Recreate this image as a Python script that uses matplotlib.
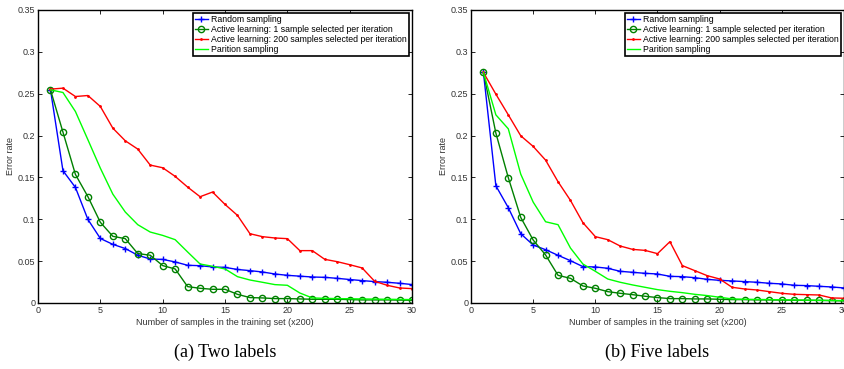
import matplotlib
matplotlib.use("Agg")
import matplotlib.pyplot as plt
import numpy as np

# training-set size, in units of 200 samples
n_iter = np.arange(1, 31)

# (a) two labels
two_random = [0.2546, 0.158, 0.138, 0.0998, 0.077, 0.070, 0.065, 0.057, 0.0525, 0.052,
              0.049, 0.045, 0.0445, 0.043, 0.0425, 0.040, 0.0386, 0.037, 0.0346, 0.033,
              0.032, 0.031, 0.0306, 0.0294, 0.028, 0.0267, 0.0255, 0.0247, 0.0235, 0.022]
two_active1 = [0.2546, 0.204, 0.1535, 0.127, 0.0963, 0.0796, 0.0768, 0.059, 0.057, 0.0446,
               0.0406, 0.0195, 0.0175, 0.0163, 0.0163, 0.0103, 0.0064, 0.006, 0.0052, 0.0052,
               0.0048, 0.0044, 0.0044, 0.0044, 0.004, 0.0036, 0.0036, 0.0036, 0.0034, 0.0032]
two_active200 = [0.2554, 0.2566, 0.2466, 0.2478, 0.2347, 0.2088, 0.1937, 0.1838, 0.1647, 0.1615,
                 0.1512, 0.1384, 0.1269, 0.1325, 0.1177, 0.1046, 0.0827, 0.0792, 0.0776, 0.0768,
                 0.0625, 0.0625, 0.0521, 0.0493, 0.0457, 0.0418, 0.0259, 0.0211, 0.0179, 0.0171]
two_partition = [0.2546, 0.2514, 0.2287, 0.195, 0.161, 0.130, 0.1086, 0.0935, 0.0847, 0.0807,
                 0.0756, 0.0609, 0.0465, 0.0438, 0.0406, 0.0314, 0.0274, 0.0247, 0.0219, 0.0211,
                 0.0119, 0.006, 0.0055, 0.0052, 0.005, 0.0048, 0.0046, 0.0044, 0.0042, 0.004]

# (b) five labels
five_random = [0.2753, 0.140, 0.1138, 0.0827, 0.0692, 0.0636, 0.0569, 0.0505, 0.0434, 0.043,
               0.0414, 0.0378, 0.0366, 0.0354, 0.0346, 0.0318, 0.0314, 0.0302, 0.0282, 0.027,
               0.0263, 0.0255, 0.0247, 0.0235, 0.0227, 0.0211, 0.0207, 0.0199, 0.0191, 0.0179]
five_active1 = [0.2753, 0.2029, 0.1496, 0.1022, 0.0752, 0.0573, 0.033, 0.0294, 0.0203, 0.0175,
                0.0135, 0.0115, 0.0099, 0.008, 0.0064, 0.0052, 0.0052, 0.0048, 0.0048, 0.0044,
                0.004, 0.004, 0.0036, 0.0036, 0.0034, 0.0032, 0.0032, 0.003, 0.0028, 0.0024]
five_active200 = [0.2753, 0.2494, 0.2247, 0.1997, 0.187, 0.1706, 0.1448, 0.1225, 0.0959, 0.0792,
                  0.0756, 0.068, 0.064, 0.0628, 0.0589, 0.0732, 0.0446, 0.0386, 0.0326, 0.0286,
                  0.0187, 0.0167, 0.0155, 0.0135, 0.0115, 0.0103, 0.0099, 0.0095, 0.006, 0.0056]
five_partition = [0.2753, 0.2247, 0.208, 0.1539, 0.1205, 0.097, 0.0935, 0.0656, 0.0465, 0.0378,
                  0.0286, 0.0247, 0.0215, 0.0187, 0.0159, 0.0139, 0.0123, 0.0103, 0.0088, 0.0068,
                  0.0048, 0.0044, 0.0042, 0.004, 0.0038, 0.0036, 0.0034, 0.0032, 0.003, 0.0028]

labels = ["Random sampling",
          "Active learning: 1 sample selected per iteration",
          "Active learning: 200 samples selected per iteration",
          "Parition sampling"]
captions = ["(a) Two labels", "(b) Five labels"]

plt.rcParams['font.family'] = ['Liberation Sans', 'DejaVu Sans']

fig = plt.figure(figsize=(8.45, 3.69), dpi=100)
ax_a = fig.add_axes([0.045, 0.179, 0.4426, 0.794])
ax_b = fig.add_axes([0.5574, 0.179, 0.4414, 0.794])


def draw_panel(ax, random, active1, active200, partition, caption):
    ax.plot(n_iter, random, color='blue', marker='+', markersize=5, lw=1, label=labels[0])
    ax.plot(n_iter, active1, color=(0, 0.5, 0), marker='o', markersize=4.5,
            markerfacecolor='none', lw=1, label=labels[1])
    ax.plot(n_iter, active200, color='red', marker='.', markersize=2, lw=1, label=labels[2])
    ax.plot(n_iter, partition, color=(0, 1, 0), lw=1, label=labels[3])

    ax.set_xlim(0, 30)
    ax.set_ylim(0, 0.35)
    ax.set_xticks(np.arange(0, 31, 5))
    ax.set_yticks(np.arange(0, 0.351, 0.05))
    ax.set_yticklabels(["0", "0.05", "0.1", "0.15", "0.2", "0.25", "0.3", "0.35"])
    ax.tick_params(direction='in', top=True, right=True, labelsize=6.5, length=3,
                   width=0.6, pad=2, colors='black', labelcolor='#333333')
    for sp in ax.spines.values():
        sp.set_linewidth(1.0)
    ax.set_xlabel("Number of samples in the training set (x200)", fontsize=6.5,
                  color='#333333', labelpad=2)
    ax.set_ylabel("Error rate", fontsize=6.5, color='#333333', labelpad=2)

    leg = ax.legend(loc='upper right', fontsize=6.3, fancybox=False, framealpha=1,
                    edgecolor='black', borderaxespad=0.3, handlelength=1.5,
                    labelspacing=0.12, borderpad=0.25, handletextpad=0.4)
    leg.get_frame().set_linewidth(1.2)

    # sub-figure caption below the axes, in figure coordinates
    x_mid = ax.get_position().x0 + ax.get_position().width / 2
    fig.text(x_mid, 0.046, caption, ha='center', va='center',
             fontsize=13, family='Liberation Serif')


draw_panel(ax_a, two_random, two_active1, two_active200, two_partition, captions[0])
draw_panel(ax_b, five_random, five_active1, five_active200, five_partition, captions[1])

fig.savefig("out.png", dpi=100)
